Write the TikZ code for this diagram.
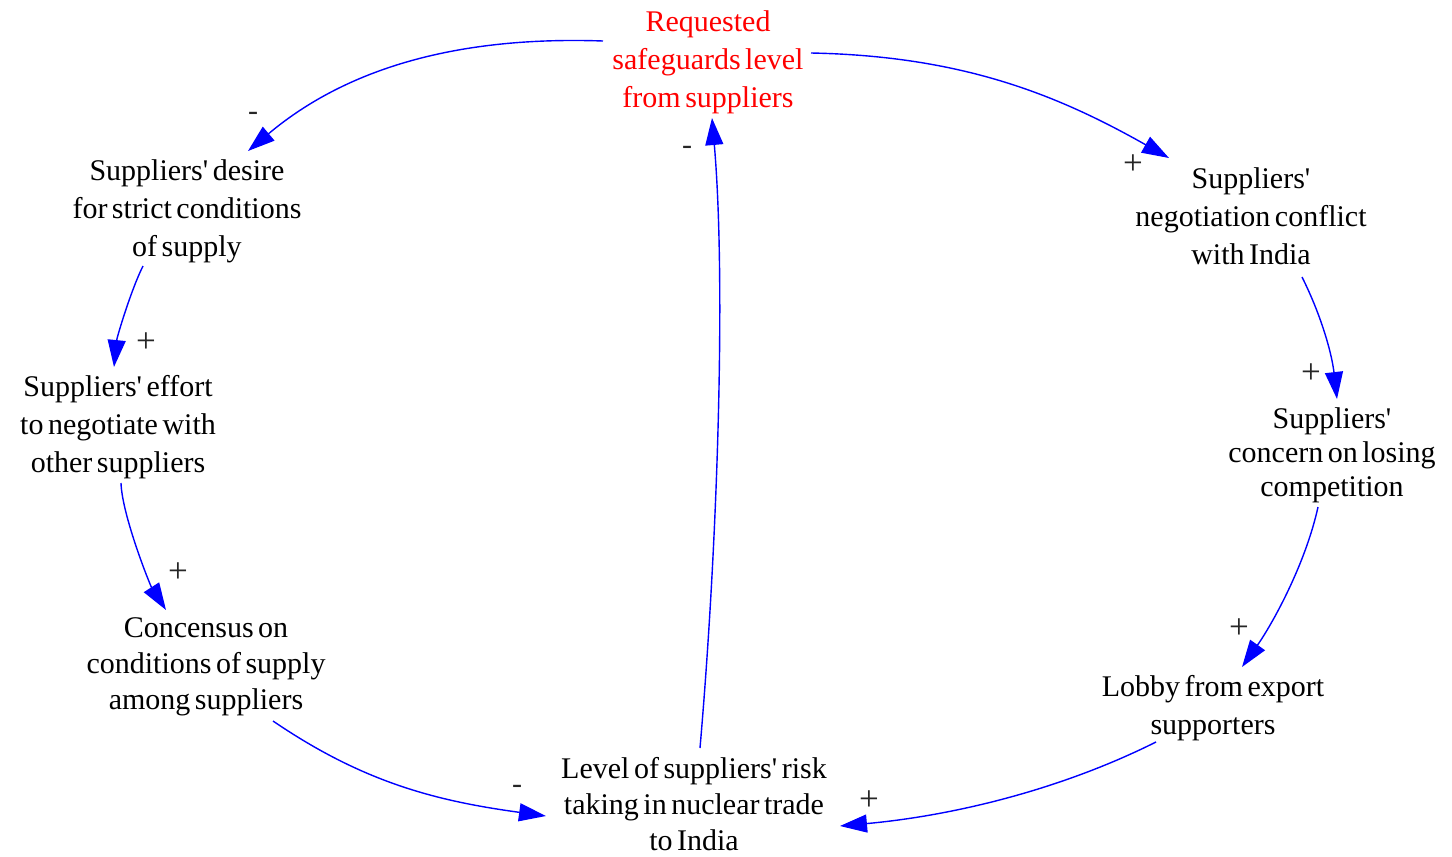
\documentclass[tikz,border=0pt]{standalone}
\usepackage{fontspec}
\setmainfont{Liberation Serif}[WordSpace=0.6, Ligatures=TeXOff]
\usetikzlibrary{arrows.meta}
\definecolor{linkblue}{RGB}{0,0,255}
\definecolor{keyred}{RGB}{255,0,0}
\begin{document}
\begin{tikzpicture}[x=1pt, y=-1pt,
  var/.style={align=center, inner sep=0pt, text=black,
    font=\fontsize{30}{38}\selectfont},
  tight/.style={font=\fontsize{30}{36}\selectfont},
  tighter/.style={font=\fontsize{30}{34}\selectfont},
  link/.style={draw=linkblue, line width=1.4pt,
    -{Triangle[length=27pt,width=18pt]}},
  sign/.style={inner sep=0pt, text=black!85,
    font=\fontsize{30}{36}\selectfont},
  plus/.style={sign, font=\fontsize{35}{40}\selectfont}]
\useasboundingbox (0,0) rectangle (1452,857);

% variables of the loop
\node[var, text=keyred] (req) at (708,62) {Requested\\safeguards level\\from suppliers};
\node[var] (desire)   at (187,211)  {Suppliers' desire\\for strict conditions\\of supply};
\node[var] (effort)   at (118,427)  {Suppliers' effort\\to negotiate with\\other suppliers};
\node[var, tight] (cons) at (206,667) {Concensus on\\conditions of supply\\among suppliers};
\node[var, tight] (level) at (694,804) {Level of suppliers' risk\\taking in nuclear trade\\to India};
\node[var] (lobby)    at (1213,708) {Lobby from export\\supporters};
\node[var, tighter] (concern) at (1332,455) {Suppliers'\\concern on losing\\competition};
\node[var] (conflict) at (1251,216) {Suppliers'\\negotiation conflict\\with India};

% causal links with their polarities
\draw[link] ([shift={(-105,-21)}]req.center) .. controls +(-143,-5) and +(100,-84) ..
  ([shift={(61,-60)}]desire.center) node[sign, at end, xshift=5pt, yshift=35pt] {-};
\draw[link] ([shift={(-44,55)}]desire.center) .. controls +(-12,24) and +(3,-30) ..
  ([shift={(-4,-60)}]effort.center) node[plus, at end, xshift=32pt, yshift=24pt] {+};
\draw[link] ([shift={(3,56)}]effort.center) .. controls +(1,32) and +(-16,-25) ..
  ([shift={(-40,-57)}]cons.center) node[plus, at end, xshift=12pt, yshift=37pt] {+};
\draw[link] ([shift={(67,54)}]cons.center) .. controls +(91,62) and +(-109,-15) ..
  ([shift={(-148,12)}]level.center) node[sign, at end, xshift=-29pt, yshift=27pt] {-};
\draw[link] ([shift={(-57,34)}]lobby.center) .. controls +(-98,49) and +(110,-10) ..
  ([shift={(146,22)}]level.center) node[plus, at end, xshift=29pt, yshift=25pt] {+};
\draw[link] ([shift={(-14,52)}]concern.center) .. controls +(-13,59) and +(29,-41) ..
  ([shift={(29,-41)}]lobby.center) node[plus, at end, xshift=-3pt, yshift=38pt] {+};
\draw[link] ([shift={(51,61)}]conflict.center) .. controls +(20,40) and +(-5,-44) ..
  ([shift={(5,-56)}]concern.center) node[plus, at end, xshift=-26pt, yshift=25pt] {+};
\draw[link] ([shift={(103,-9)}]req.center) .. controls +(150,3) and +(-113,-64) ..
  ([shift={(-82,-58)}]conflict.center) node[plus, at end, xshift=-36pt, yshift=-7pt] {+};
\draw[link] ([shift={(6,-56)}]level.center) .. controls +(18,-208) and +(14,162) ..
  ([shift={(4,56)}]req.center) node[sign, at end, xshift=-25pt, yshift=-32pt] {-};
\end{tikzpicture}
\end{document}
